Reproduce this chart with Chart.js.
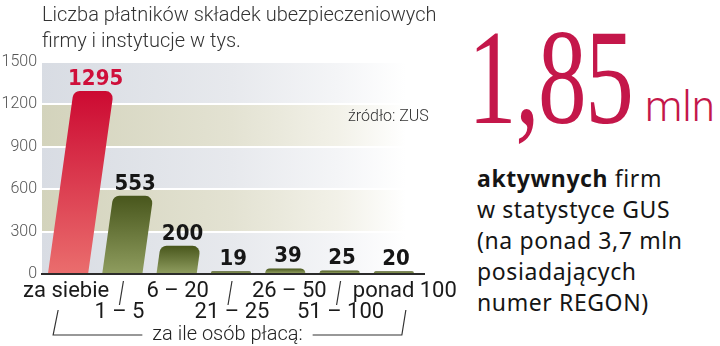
<!DOCTYPE html>
<html lang="pl">
<head>
<meta charset="utf-8">
<script src="https://cdn.jsdelivr.net/npm/chart.js@4/dist/chart.umd.min.js"></script>
<style>
    html, body { margin: 0; padding: 0; background: #fff; }
    #wrap { position: relative; width: 720px; height: 346px; overflow: hidden; }
    #chartBox { position: absolute; left: 0; top: 0; width: 460px; height: 346px; }
    .title { position: absolute; left: 42px; top: 1px; font: 300 20px/26px Roboto, sans-serif; color: #333; white-space: nowrap; }
    .source { position: absolute; left: 348px; top: 106px; font: 300 16px/20px Roboto, sans-serif; color: #333; white-space: nowrap; }
    .big { position: absolute; left: 468px; top: 10px; font: 400 135px/135px "Liberation Serif", serif; color: #c4174a; white-space: nowrap; transform: scaleX(0.72); transform-origin: left top; letter-spacing: -2px; }
    .mln { position: absolute; left: 645px; top: 86px; font: 300 42px/42px Roboto, sans-serif; color: #c4174a; white-space: nowrap; }
    .desc { position: absolute; left: 477px; top: 163px; font: 400 23px/31px "Noto Sans", sans-serif; letter-spacing: 0.6px; color: #151515; white-space: nowrap; }
    .desc b { font-weight: 700; }
</style>
</head>
<body>
<div id="wrap">
    <div id="chartBox"><canvas id="chart"></canvas></div>
    <div class="title">Liczba płatników składek ubezpieczeniowych<br>firmy i instytucje w tys.</div>
    <div class="source">źródło: ZUS</div>
    <div class="big">1,85</div>
    <div class="mln">mln</div>
    <div class="desc"><b>aktywnych</b> firm<br>w statystyce GUS<br>(na ponad 3,7 mln<br>posiadających<br>numer REGON)</div>
</div>
<script>
// dane: płatnicy składek wg liczby osób, za które płacą (tys.)
const categories = ['za siebie', '1 – 5', '6 – 20', '21 – 25', '26 – 50', '51 – 100', 'ponad 100'];
const payers = [1295, 553, 200, 19, 39, 25, 20];
const yMax = 1500;
const yStep = 300;
const groupLabel = 'za ile osób płacą:';

// wygląd
const bands = [[300, 600], [900, 1200]];
const barSlant = 0.14;
const redBar = ['#cc0a32', '#ea6d6d'];
const oliveBar = ['#48561c', '#8e9c5e'];
const labelShift = [-2, -3, 1, 1, 4, 1, 11];
const textFont = 'Roboto';

const chartPaint = {
    id: 'chartPaint',

    // tło z pasami, zanikające do bieli
    beforeDraw(chart) {
        const { ctx, chartArea: a, scales: { y } } = chart;
        ctx.save();
        const g = ctx.createLinearGradient(a.left, 0, a.right, 0);
        g.addColorStop(0, '#d8dce3');
        g.addColorStop(0.5, '#e7e9ed');
        g.addColorStop(0.78, '#f4f5f7');
        g.addColorStop(0.96, '#ffffff');
        ctx.fillStyle = g;
        ctx.fillRect(a.left + 1, a.top, a.right - a.left, a.bottom - a.top);

        const gb = ctx.createLinearGradient(a.left, 0, a.right, 0);
        gb.addColorStop(0, '#d3d3bc');
        gb.addColorStop(0.5, '#e3e2d2');
        gb.addColorStop(0.78, '#f2f1e8');
        gb.addColorStop(0.96, '#ffffff');
        ctx.fillStyle = gb;
        bands.forEach(([lo, hi]) => {
            const top = y.getPixelForValue(hi);
            const bot = y.getPixelForValue(lo);
            ctx.fillRect(a.left + 1, top, a.right - a.left, bot - top);
        });
        ctx.restore();
    },

    // własny kształt słupków (pochylone, zaokrąglone u góry)
    beforeDatasetDraw(chart, args) {
        const { ctx } = chart;
        const meta = args.meta;
        ctx.save();
        meta.data.forEach((bar, i) => {
            const { x, y, base, width } = bar.getProps(['x', 'y', 'base', 'width'], true);
            const h = base - y;
            const s = h * barSlant;
            const bl = x - width / 2, br = x + width / 2;
            const tl = bl + s, tr = br + s;
            const r = Math.min(7, h);
            const cols = i === 0 ? redBar : oliveBar;
            const g = ctx.createLinearGradient(0, y, 0, base);
            g.addColorStop(0, cols[0]);
            g.addColorStop(1, cols[1]);
            ctx.fillStyle = g;
            ctx.beginPath();
            ctx.moveTo(bl, base);
            ctx.arcTo(tl, y, tr, y, r);
            ctx.arcTo(tr, y, br, base, r);
            ctx.lineTo(br, base);
            ctx.closePath();
            ctx.fill();
        });
        ctx.restore();
        return false;
    },

    afterDatasetsDraw(chart) {
        const { ctx, chartArea: a, scales: { x, y } } = chart;
        const meta = chart.getDatasetMeta(0);
        const y0 = y.getPixelForValue(0);
        ctx.save();

        // linia bazowa
        ctx.strokeStyle = '#2b2b2b';
        ctx.lineWidth = 2;
        ctx.beginPath();
        ctx.moveTo(a.left, y0);
        ctx.lineTo(a.right + 4, y0);
        ctx.stroke();

        // wartości nad słupkami
        ctx.font = 'bold 22px "DejaVu Sans Condensed", "DejaVu Sans"';
        ctx.textAlign = 'center';
        ctx.textBaseline = 'alphabetic';
        meta.data.forEach((bar, i) => {
            const s = (bar.base - bar.y) * barSlant;
            ctx.fillStyle = i === 0 ? '#cf0f3a' : '#161616';
            ctx.fillText(String(payers[i]), bar.x + s + 2, bar.y - 6);
        });

        // etykiety kategorii w dwóch rzędach
        ctx.font = '400 22px ' + textFont;
        ctx.fillStyle = '#1a1a1a';
        categories.forEach((label, i) => {
            const cx = x.getPixelForValue(i) + labelShift[i];
            ctx.fillText(label, cx, y0 + (i % 2 === 0 ? 23 : 44));
        });

        // kreski do dolnego rzędu
        ctx.strokeStyle = '#333';
        ctx.lineWidth = 1.2;
        categories.forEach((label, i) => {
            if (i % 2 === 0) return;
            const cx = x.getPixelForValue(i);
            ctx.beginPath();
            ctx.moveTo(cx + 1, y0 + 7);
            ctx.lineTo(cx - 3, y0 + 31);
            ctx.stroke();
        });

        // klamra z podpisem
        const xl = x.getPixelForValue(0);
        const xr = x.getPixelForValue(categories.length - 1);
        const mid = (xl - 15 + xr + 8) / 2;
        ctx.font = '300 20px ' + textFont;
        const half = ctx.measureText(groupLabel).width / 2 + 10;
        ctx.beginPath();
        ctx.moveTo(xl - 10, y0 + 36);
        ctx.lineTo(xl - 15, y0 + 61);
        ctx.lineTo(mid - half, y0 + 61);
        ctx.moveTo(mid + half, y0 + 61);
        ctx.lineTo(xr + 8, y0 + 61);
        ctx.lineTo(xr + 12, y0 + 36);
        ctx.stroke();
        ctx.fillStyle = '#222';
        ctx.fillText(groupLabel, mid, y0 + 66);

        ctx.restore();
    }
};

new Chart(document.getElementById('chart'), {
    type: 'bar',
    data: {
        labels: categories,
        datasets: [{
            data: payers,
            backgroundColor: oliveBar[0],
            barPercentage: 0.74,
            categoryPercentage: 1
        }]
    },
    options: {
        responsive: true,
        maintainAspectRatio: false,
        animation: false,
        layout: {
            padding: { top: 62, right: 39, bottom: 72, left: 0 }
        },
        plugins: {
            legend: { display: false },
            tooltip: { enabled: false }
        },
        scales: {
            x: {
                display: false
            },
            y: {
                min: 0,
                max: yMax,
                ticks: {
                    stepSize: yStep,
                    padding: 4,
                    color: '#555',
                    font: { family: textFont, weight: '300', size: 16 },
                    callback: (value) => String(value)
                },
                grid: {
                    color: '#ffffff',
                    lineWidth: 2,
                    drawTicks: false
                },
                border: { display: false },
                afterFit(scale) {
                    scale.width = 41;
                }
            }
        }
    },
    plugins: [chartPaint]
});
</script>
</body>
</html>
